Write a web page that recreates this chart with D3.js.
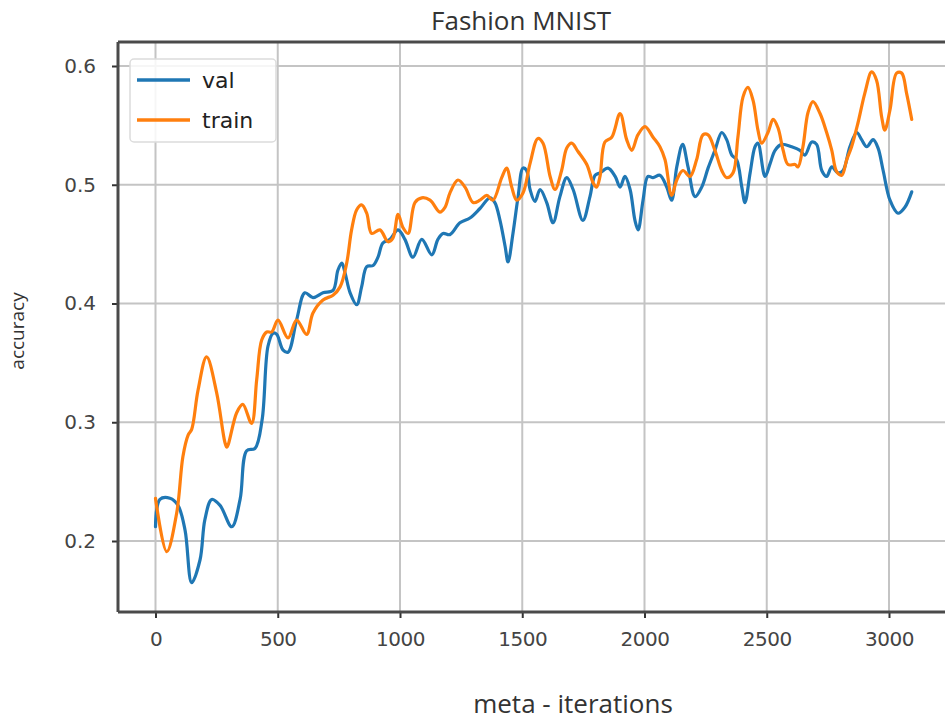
<!DOCTYPE html>
<html><head><meta charset="utf-8">
<script src="https://cdn.jsdelivr.net/npm/d3@7/dist/d3.min.js"></script>
<style>body{margin:0;background:#fff}svg{display:block}</style>
</head><body><svg id="c" width="945" height="720"></svg>
<script>
const title = "Fashion MNIST";
const xLabel = "meta - iterations";
const yLabel = "accuracy";
const xTicks = [0, 500, 1000, 1500, 2000, 2500, 3000];
const yTicks = [0.2, 0.3, 0.4, 0.5, 0.6];
const seriesNames = ["val", "train"];
const seriesColors = ["#1f77b4", "#ff7f0e"];

const valX = [0,18,59,92,121,148,182,202,230,264,312,346,373,407,436,460,481,496,521,542,577,611,644,685,726,746,762,775,796,823,843,864,890,910,930,959,992,1020,1053,1089,1130,1155,1176,1204,1245,1286,1327,1368,1388,1409,1430,1442,1462,1483,1503,1518,1532,1552,1573,1600,1626,1654,1682,1708,1748,1777,1798,1818,1851,1880,1900,1920,1941,1961,1974,1994,2014,2035,2063,2091,2111,2132,2156,2178,2207,2234,2260,2288,2316,2336,2357,2377,2398,2411,2432,2452,2464,2493,2514,2534,2561,2602,2636,2656,2684,2704,2725,2745,2766,2791,2812,2840,2868,2888,2909,2935,2955,2976,3004,3037,3065,3093];
const valY = [0.212,0.235,0.236,0.230,0.209,0.165,0.184,0.218,0.235,0.230,0.212,0.235,0.276,0.278,0.302,0.364,0.375,0.374,0.361,0.359,0.386,0.409,0.405,0.409,0.411,0.428,0.434,0.426,0.409,0.399,0.414,0.431,0.432,0.439,0.451,0.454,0.462,0.454,0.439,0.454,0.441,0.454,0.459,0.458,0.468,0.472,0.480,0.489,0.485,0.470,0.448,0.435,0.459,0.490,0.514,0.512,0.496,0.486,0.496,0.485,0.468,0.490,0.506,0.496,0.470,0.490,0.508,0.510,0.514,0.507,0.498,0.507,0.496,0.470,0.462,0.487,0.507,0.506,0.508,0.498,0.487,0.515,0.534,0.515,0.490,0.498,0.514,0.529,0.544,0.538,0.525,0.521,0.498,0.485,0.510,0.532,0.535,0.507,0.518,0.529,0.534,0.532,0.529,0.525,0.536,0.534,0.512,0.507,0.515,0.510,0.512,0.532,0.544,0.538,0.532,0.538,0.531,0.512,0.487,0.476,0.481,0.494];

const trainX = [0,46,87,112,133,148,174,209,250,284,292,332,357,393,414,434,455,475,501,542,577,618,644,685,726,755,782,802,823,843,864,884,918,951,971,992,1012,1033,1061,1089,1123,1163,1184,1204,1237,1266,1299,1327,1355,1380,1416,1436,1457,1477,1503,1532,1564,1585,1614,1634,1661,1682,1702,1728,1764,1789,1804,1818,1838,1866,1900,1927,1948,1973,2002,2035,2063,2084,2111,2132,2157,2186,2213,2239,2260,2288,2316,2336,2362,2382,2403,2423,2444,2464,2479,2505,2526,2546,2567,2587,2616,2628,2648,2669,2689,2718,2745,2766,2786,2807,2827,2847,2873,2901,2929,2949,2970,2983,3004,3031,3052,3072,3093];
const trainY = [0.236,0.191,0.224,0.271,0.289,0.294,0.327,0.355,0.325,0.283,0.279,0.308,0.315,0.299,0.336,0.369,0.376,0.376,0.386,0.371,0.386,0.374,0.392,0.403,0.407,0.414,0.434,0.462,0.479,0.483,0.476,0.459,0.462,0.452,0.455,0.475,0.464,0.459,0.485,0.489,0.487,0.477,0.481,0.493,0.504,0.498,0.485,0.487,0.491,0.487,0.506,0.514,0.498,0.487,0.493,0.518,0.539,0.535,0.507,0.496,0.512,0.531,0.535,0.528,0.517,0.502,0.498,0.507,0.536,0.540,0.560,0.538,0.529,0.542,0.549,0.540,0.532,0.521,0.491,0.504,0.512,0.507,0.521,0.542,0.542,0.529,0.512,0.506,0.510,0.540,0.574,0.582,0.571,0.546,0.535,0.544,0.555,0.548,0.529,0.517,0.517,0.515,0.532,0.561,0.570,0.560,0.544,0.529,0.511,0.508,0.521,0.532,0.552,0.577,0.595,0.588,0.557,0.546,0.563,0.594,0.594,0.577,0.555];

const svg = d3.select("#c");
const plotL = 118, plotT = 42, plotB = 612, plotR = 960;
const x = d3.scaleLinear().domain([0, 3000]).range([155.5, 889]);
const y = d3.scaleLinear().domain([0.2, 0.6]).range([541, 66]);

svg.append("defs").append("clipPath").attr("id", "clip")
  .append("rect").attr("x", plotL).attr("y", plotT).attr("width", plotR - plotL).attr("height", plotB - plotT);

// grid
const grid = svg.append("g").attr("clip-path", "url(#clip)");
grid.selectAll("line.vx").data(xTicks).join("line")
  .attr("x1", d => x(d)).attr("x2", d => x(d)).attr("y1", plotT).attr("y2", plotB)
  .attr("stroke", "#c4c4c4").attr("stroke-width", 2);
grid.selectAll("line.hy").data(yTicks).join("line")
  .attr("y1", d => y(d)).attr("y2", d => y(d)).attr("x1", plotL).attr("x2", plotR)
  .attr("stroke", "#c4c4c4").attr("stroke-width", 2);

// lines
const series = [
  {name: seriesNames[0], color: seriesColors[0], xs: valX, ys: valY},
  {name: seriesNames[1], color: seriesColors[1], xs: trainX, ys: trainY}
];
const line = d3.line().x(d => x(d[0])).y(d => y(d[1])).curve(d3.curveCatmullRom.alpha(0.5));
const lg = svg.append("g").attr("clip-path", "url(#clip)");
series.forEach(s => {
  lg.append("path").datum(s.xs.map((v, i) => [v, s.ys[i]]))
    .attr("d", line).attr("fill", "none").attr("stroke", s.color)
    .attr("stroke-width", 3.2).attr("stroke-linejoin", "round").attr("stroke-linecap", "round");
});

// axes
const xAxis = d3.axisBottom(x).tickValues(xTicks).tickSize(6).tickPadding(14).tickFormat(d3.format("d"));
const gx = svg.append("g").attr("transform", `translate(0,${plotB})`).call(xAxis);
gx.select(".domain").remove();
gx.selectAll(".tick line").attr("stroke", "#333").attr("stroke-width", 2);
gx.selectAll(".tick text").attr("fill", "#444").attr("font-size", 20)
  .attr("font-family", "DejaVu Sans, sans-serif").attr("letter-spacing", "-0.5");

const yAxis = d3.axisLeft(y).tickValues(yTicks).tickSize(6).tickPadding(16).tickFormat(d3.format(".1f"));
const gy = svg.append("g").attr("transform", `translate(${plotL},0)`).call(yAxis);
gy.select(".domain").remove();
gy.selectAll(".tick line").attr("stroke", "#333").attr("stroke-width", 2);
gy.selectAll(".tick text").attr("fill", "#444").attr("font-size", 20)
  .attr("font-family", "DejaVu Sans, sans-serif");

// spines
const sp = svg.append("g").attr("stroke", "#4a4a4a").attr("stroke-width", 3);
sp.append("line").attr("x1", plotL).attr("x2", plotR).attr("y1", plotT).attr("y2", plotT);
sp.append("line").attr("x1", plotL).attr("x2", plotR).attr("y1", plotB).attr("y2", plotB);
sp.append("line").attr("x1", plotL).attr("x2", plotL).attr("y1", plotT).attr("y2", plotB);

// legend
const leg = svg.append("g");
leg.append("rect").attr("x", 130).attr("y", 59).attr("width", 146).attr("height", 83).attr("rx", 4)
  .attr("fill", "#fff").attr("fill-opacity", 0.85).attr("stroke", "#dcdcdc").attr("stroke-width", 1.5);
series.forEach((s, i) => {
  const yy = 80 + i * 40;
  leg.append("line").attr("x1", 137).attr("x2", 190).attr("y1", yy).attr("y2", yy)
    .attr("stroke", s.color).attr("stroke-width", 3.5);
  leg.append("text").attr("x", 202).attr("y", yy + 8).text(s.name)
    .attr("font-family", "DejaVu Sans, sans-serif").attr("font-size", 22).attr("fill", "#222");
});

// titles
svg.append("text").attr("x", 521).attr("y", 30).attr("text-anchor", "middle").text(title)
  .attr("font-family", "Open Sans, sans-serif").attr("font-size", 26).attr("fill", "#333");
svg.append("text").attr("x", 573).attr("y", 713).attr("text-anchor", "middle").text(xLabel)
  .attr("font-family", "Open Sans, sans-serif").attr("font-size", 26).attr("fill", "#333");
svg.append("text").attr("transform", "translate(24,331) rotate(-90)").attr("text-anchor", "middle").text(yLabel)
  .attr("font-family", "Open Sans, sans-serif").attr("font-size", 19).attr("fill", "#333");
</script></body></html>
